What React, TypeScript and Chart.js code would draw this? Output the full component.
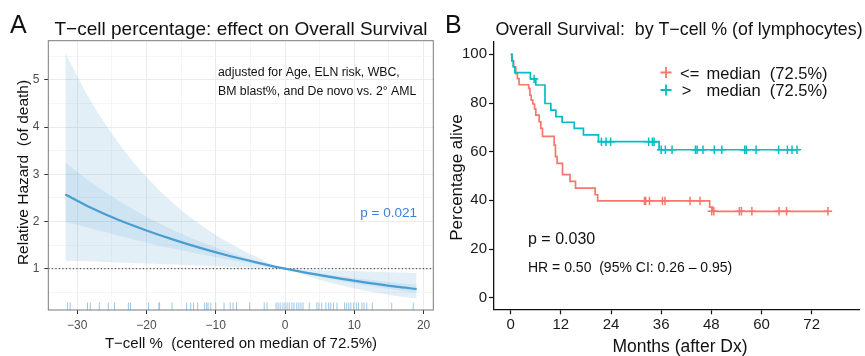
import React, { useEffect, useRef } from "react";
import { Chart, registerables } from "chart.js";
Chart.register(...registerables);

const FONT = "'Liberation Sans', Arial, Helvetica, sans-serif";
Chart.defaults.font.family = FONT;

// ---------------- Panel A data (hazard ratio vs centered T-cell %) ----------------
const hrX = [-31.7, -28, -24, -20, -16, -12, -8, -4, 0, 4, 8, 12, 16, 19];
const hrFit = [2.57, 2.29, 2.03, 1.81, 1.61, 1.43, 1.27, 1.13, 1.0, 0.89, 0.79, 0.7, 0.62, 0.57];
const hrUpperOuter = [5.57, 4.54, 3.66, 2.94, 2.37, 1.91, 1.54, 1.24, 1.0, 0.98, 0.96, 0.94, 0.92, 0.91];
const hrLowerOuter = [1.17, 1.16, 1.13, 1.11, 1.09, 1.06, 1.04, 1.02, 1.0, 0.81, 0.65, 0.52, 0.42, 0.37];
const hrUpperInner = [3.25, 2.83, 2.44, 2.1, 1.81, 1.56, 1.35, 1.16, 1.0, 0.92, 0.84, 0.77, 0.7, 0.66];
const hrLowerInner = [2.0, 1.85, 1.7, 1.55, 1.42, 1.3, 1.19, 1.09, 1.0, 0.86, 0.74, 0.64, 0.55, 0.49];
const rugX = [
  -31.4, -31.0, -28.5, -28.1, -26.8, -25.5, -24.6, -22.6, -22.3, -19.7, -18.2, -18.1, -16.3,
  -14.2, -13.6, -13.2, -12.6, -11.6, -11.3, -11.1, -10.7, -10.0, -8.8, -7.9, -7.5, -7.0, -5.1,
  -3.0, -2.6, -1.3, -1.0, -0.7, -0.3, 0.0, 0.3, 0.6, 1.0, 1.3, 1.7, 2.0, 2.3, 2.6, 3.5, 4.6,
  4.9, 5.3, 5.9, 6.3, 6.6, 7.0, 7.5, 8.6, 8.9, 9.2, 9.5, 9.9, 10.3, 10.6, 11.1, 11.4, 11.8,
  12.6, 15.4, 18.5,
];
const xRangeA = [-34.16, 21.4];
const yRangeA = [0.125, 5.83];
const referenceHR = 1;

// ---------------- Panel B data (Kaplan-Meier) ----------------
const kmLowTimes = [0, 0.3, 0.7, 1.2, 1.6, 2.0, 4.3, 4.6, 4.9, 5.3, 5.7, 6.0, 6.8, 7.2, 7.6, 10.4, 10.7, 11.1, 12.4, 14.2, 15.5, 20.2, 20.8, 47.6, 48.3, 75.9];
const kmLowSurv = [100, 97.2, 94.8, 92.1, 90.0, 87.5, 86.0, 83.2, 81.2, 79.6, 77.6, 75.0, 72.3, 69.6, 66.3, 62.7, 58.0, 55.2, 50.6, 47.8, 45.0, 42.3, 39.8, 37.2, 35.5, 35.5];
const kmHighTimes = [0, 0.3, 0.6, 1.0, 4.7, 6.0, 8.2, 9.6, 10.8, 12.3, 15.2, 17.4, 21.0, 35.5, 68.5];
const kmHighSurv = [100, 97.4, 94.9, 92.5, 89.9, 87.4, 79.8, 77.1, 74.4, 72.1, 69.6, 66.9, 64.1, 60.8, 60.8];
const censorLowTimes = [32.0, 32.3, 33.2, 36.3, 36.9, 42.9, 45.3, 48.1, 48.6, 54.7, 55.2, 57.7, 64.2, 66.0, 75.9];
const censorLowSurv = [39.8, 39.8, 39.8, 39.8, 39.8, 39.8, 39.8, 35.5, 35.5, 35.5, 35.5, 35.5, 35.5, 35.5, 35.5];
const censorHighTimes = [5.6, 21.7, 22.8, 23.9, 33.0, 33.9, 34.3, 36.0, 37.0, 38.6, 44.2, 44.6, 46.0, 48.7, 50.5, 56.0, 56.4, 58.7, 64.1, 66.2, 67.3, 68.5];
const censorHighSurv = [89.9, 64.1, 64.1, 64.1, 64.1, 64.1, 64.1, 60.8, 60.8, 60.8, 60.8, 60.8, 60.8, 60.8, 60.8, 60.8, 60.8, 60.8, 60.8, 60.8, 60.8, 60.8];
const xRangeB = [-4.0, 83.4];
const yRangeB = [-4.77, 105.2];
const legendLabels = ["<=", ">"];
const legendTail = "median  (72.5%)";

const RED = "#F8766D";
const TEAL = "#00BFC4";

type TextItem = {
  text: string; x: number; y: number; size: number;
  color?: string; align?: CanvasTextAlign; rotate?: boolean;
};

function drawTexts(ctx: CanvasRenderingContext2D, items: TextItem[]) {
  for (const t of items) {
    ctx.save();
    ctx.font = `${t.size}px ${FONT}`;
    ctx.fillStyle = t.color || "#111";
    ctx.textAlign = t.align || "left";
    ctx.textBaseline = "alphabetic";
    if (t.rotate) {
      ctx.translate(t.x, t.y);
      ctx.rotate(-Math.PI / 2);
      ctx.textAlign = "center";
      ctx.fillText(t.text, 0, 0);
    } else {
      ctx.fillText(t.text, t.x, t.y);
    }
    ctx.restore();
  }
}

const fmtSigned = (v: number) => (v < 0 ? "\u2212" + Math.abs(v) : String(v));
const pts = (xs: number[], ys: number[]) => xs.map((x, i) => ({ x, y: ys[i] }));

function PanelA() {
  const ref = useRef<HTMLCanvasElement>(null);
  useEffect(() => {
    const textsA: TextItem[] = [
      { text: "A", x: 10, y: 33, size: 25 },
      { text: "T\u2212cell percentage: effect on Overall Survival", x: 241, y: 35, size: 19, align: "center" },
      { text: "adjusted for Age, ELN risk, WBC,", x: 218, y: 76, size: 12.3 },
      { text: "BM blast%, and De novo vs. 2\u00B0 AML", x: 218, y: 95, size: 12.3 },
      { text: "p = 0.021", x: 417, y: 216.5, size: 13.5, color: "#3B82D6", align: "right" },
      { text: "Relative Hazard  (of death)", x: 28.3, y: 172.5, size: 15.5, rotate: true },
      { text: "T\u2212cell %  (centered on median of 72.5%)", x: 241, y: 348, size: 15, align: "center" },
    ];
    const plugin = {
      id: "panelAExtras",
      beforeDatasetsDraw(chart: any) {
        const { ctx, chartArea, scales } = chart;
        ctx.save();
        ctx.strokeStyle = "#9CC6E4";
        ctx.lineWidth = 1;
        for (const v of rugX) {
          const px = scales.x.getPixelForValue(v);
          ctx.beginPath();
          ctx.moveTo(px, chartArea.bottom - 7.5);
          ctx.lineTo(px, chartArea.bottom);
          ctx.stroke();
        }
        ctx.restore();
      },
      afterDatasetsDraw(chart: any) {
        const { ctx, chartArea } = chart;
        ctx.save();
        ctx.strokeStyle = "#7a7a7a";
        ctx.lineWidth = 1;
        ctx.strokeRect(chartArea.left, chartArea.top, chartArea.right - chartArea.left, chartArea.bottom - chartArea.top);
        ctx.restore();
      },
      afterDraw(chart: any) {
        drawTexts(chart.ctx, textsA);
      },
    };
    const band = (ys: number[], fill: any, color: string, order: number) => ({
      data: pts(hrX, ys), fill, backgroundColor: color, borderColor: "transparent",
      borderWidth: 0, pointRadius: 0, cubicInterpolationMode: "monotone" as const, order,
    });
    const chart = new Chart(ref.current!, {
      type: "line",
      data: {
        datasets: [
          band(hrUpperOuter, "+1", "rgba(74,157,208,0.16)", 5),
          band(hrLowerOuter, false, "transparent", 5),
          band(hrUpperInner, "+1", "rgba(74,157,208,0.13)", 4),
          band(hrLowerInner, false, "transparent", 4),
          {
            data: [{ x: xRangeA[0], y: referenceHR }, { x: xRangeA[1], y: referenceHR }],
            borderColor: "#333", borderWidth: 1, borderDash: [1.3, 2.2], pointRadius: 0, fill: false, order: 2,
          },
          {
            data: pts(hrX, hrFit), borderColor: "#4A9DD0", borderWidth: 2.2, pointRadius: 0,
            fill: false, cubicInterpolationMode: "monotone", order: 1,
          },
        ],
      } as any,
      options: {
        animation: false,
        responsive: false,
        layout: { padding: { left: 0, top: 40.7, right: 6.7, bottom: 0 } },
        plugins: { legend: { display: false }, tooltip: { enabled: false }, title: { display: false } },
        scales: {
          x: {
            type: "linear", min: xRangeA[0], max: xRangeA[1],
            afterFit: (s: any) => { s.height = 46; },
            border: { display: false },
            grid: {
              color: (c: any) => (c.tick && c.tick.value % 10 === 0 ? "#EBEBEB" : "#F3F3F3"),
              lineWidth: (c: any) => (c.tick && c.tick.value % 10 === 0 ? 1 : 0.8),
              tickColor: (c: any) => (c.tick && c.tick.value % 10 === 0 ? "#333" : "rgba(0,0,0,0)"),
              tickWidth: 1, tickLength: 4, drawTicks: true,
            },
            ticks: {
              stepSize: 5, includeBounds: false, autoSkip: false, maxRotation: 0, padding: 4,
              color: "#4D4D4D", font: { family: FONT, size: 12 },
              callback: (v: any) => (Number(v) % 10 === 0 ? fmtSigned(Number(v)) : ""),
            },
          },
          y: {
            type: "linear", min: yRangeA[0], max: yRangeA[1],
            afterFit: (s: any) => { s.width = 48.3; },
            border: { display: false },
            grid: {
              color: (c: any) => (c.tick && Number.isInteger(c.tick.value) ? "#EBEBEB" : "#F3F3F3"),
              lineWidth: (c: any) => (c.tick && Number.isInteger(c.tick.value) ? 1 : 0.8),
              tickColor: (c: any) => (c.tick && Number.isInteger(c.tick.value) ? "#333" : "rgba(0,0,0,0)"),
              tickWidth: 1, tickLength: 4, drawTicks: true,
            },
            ticks: {
              stepSize: 0.5, includeBounds: false, autoSkip: false, padding: 5,
              color: "#4D4D4D", font: { family: FONT, size: 12 },
              callback: (v: any) => (Number.isInteger(Number(v)) ? String(v) : ""),
            },
          },
        },
      } as any,
      plugins: [plugin],
    });
    return () => chart.destroy();
  }, []);
  return <canvas ref={ref} width={440} height={356} style={{ position: "absolute", left: 0, top: 0 }} />;
}

function PanelB() {
  const ref = useRef<HTMLCanvasElement>(null);
  useEffect(() => {
    const textsB: TextItem[] = [
      { text: "B", x: 5, y: 33, size: 25 },
      { text: "Overall Survival:  by T\u2212cell % (of lymphocytes)", x: 239, y: 35, size: 17.8, align: "center" },
      { text: legendLabels[0], x: 240, y: 79, size: 16.5 },
      { text: legendTail, x: 266.5, y: 79, size: 16.5 },
      { text: legendLabels[1], x: 241.7, y: 96, size: 16.5 },
      { text: legendTail, x: 266.5, y: 96, size: 16.5 },
      { text: "p = 0.030", x: 88, y: 244, size: 16 },
      { text: "HR = 0.50  (95% CI: 0.26 \u2013 0.95)", x: 88, y: 271.7, size: 14 },
      { text: "Percentage alive", x: 21.7, y: 177.5, size: 17, rotate: true },
      { text: "Months (after Dx)", x: 240, y: 352, size: 17.5, align: "center" },
    ];
    const plugin = {
      id: "panelBExtras",
      afterDraw(chart: any) {
        const { ctx } = chart;
        const plus = (cx: number, cy: number, color: string) => {
          ctx.save();
          ctx.strokeStyle = color;
          ctx.lineWidth = 1.8;
          ctx.beginPath();
          ctx.moveTo(cx - 5.5, cy); ctx.lineTo(cx + 5.5, cy);
          ctx.moveTo(cx, cy - 5.5); ctx.lineTo(cx, cy + 5.5);
          ctx.stroke();
          ctx.restore();
        };
        plus(226, 72.5, RED);
        plus(226, 90, TEAL);
        drawTexts(ctx, textsB);
      },
    };
    const chart = new Chart(ref.current!, {
      type: "line",
      data: {
        datasets: [
          { data: pts(kmHighTimes, kmHighSurv), borderColor: TEAL, borderWidth: 1.7, stepped: "before", pointRadius: 0, fill: false },
          { data: pts(kmLowTimes, kmLowSurv), borderColor: RED, borderWidth: 1.7, stepped: "before", pointRadius: 0, fill: false },
          {
            data: pts(censorHighTimes, censorHighSurv), showLine: false, pointStyle: "cross", pointRadius: 4.2,
            pointBorderWidth: 1.5, borderColor: TEAL, pointBorderColor: TEAL,
          },
          {
            data: pts(censorLowTimes, censorLowSurv), showLine: false, pointStyle: "cross", pointRadius: 4.2,
            pointBorderWidth: 1.5, borderColor: RED, pointBorderColor: RED,
          },
        ],
      } as any,
      options: {
        animation: false,
        responsive: false,
        layout: { padding: { left: 0, top: 41.7, right: 0, bottom: 0 } },
        plugins: { legend: { display: false }, tooltip: { enabled: false }, title: { display: false } },
        scales: {
          x: {
            type: "linear", min: xRangeB[0], max: xRangeB[1],
            afterFit: (s: any) => { s.height = 46.7; },
            border: { display: true, color: "#111", width: 1.3 },
            grid: { drawOnChartArea: false, drawTicks: true, tickColor: "#111", tickWidth: 1.2, tickLength: 5 },
            ticks: {
              stepSize: 12, includeBounds: false, autoSkip: false, maxRotation: 0, padding: 2,
              color: "#1a1a1a", font: { family: FONT, size: 15 },
            },
          },
          y: {
            type: "linear", min: yRangeB[0], max: yRangeB[1],
            afterFit: (s: any) => { s.width = 54; },
            border: { display: true, color: "#111", width: 1.3 },
            grid: { drawOnChartArea: false, drawTicks: true, tickColor: "#111", tickWidth: 1.2, tickLength: 5 },
            ticks: {
              stepSize: 20, includeBounds: false, autoSkip: false, padding: 2,
              color: "#1a1a1a", font: { family: FONT, size: 15 },
            },
          },
        },
      } as any,
      plugins: [plugin],
    });
    return () => chart.destroy();
  }, []);
  return <canvas ref={ref} width={425} height={356} style={{ position: "absolute", left: 440, top: 0 }} />;
}

export default function App() {
  return (
    <div style={{ position: "absolute", left: 0, top: 0, width: 865, height: 356, background: "#fff", overflow: "hidden" }}>
      <PanelA />
      <PanelB />
    </div>
  );
}
